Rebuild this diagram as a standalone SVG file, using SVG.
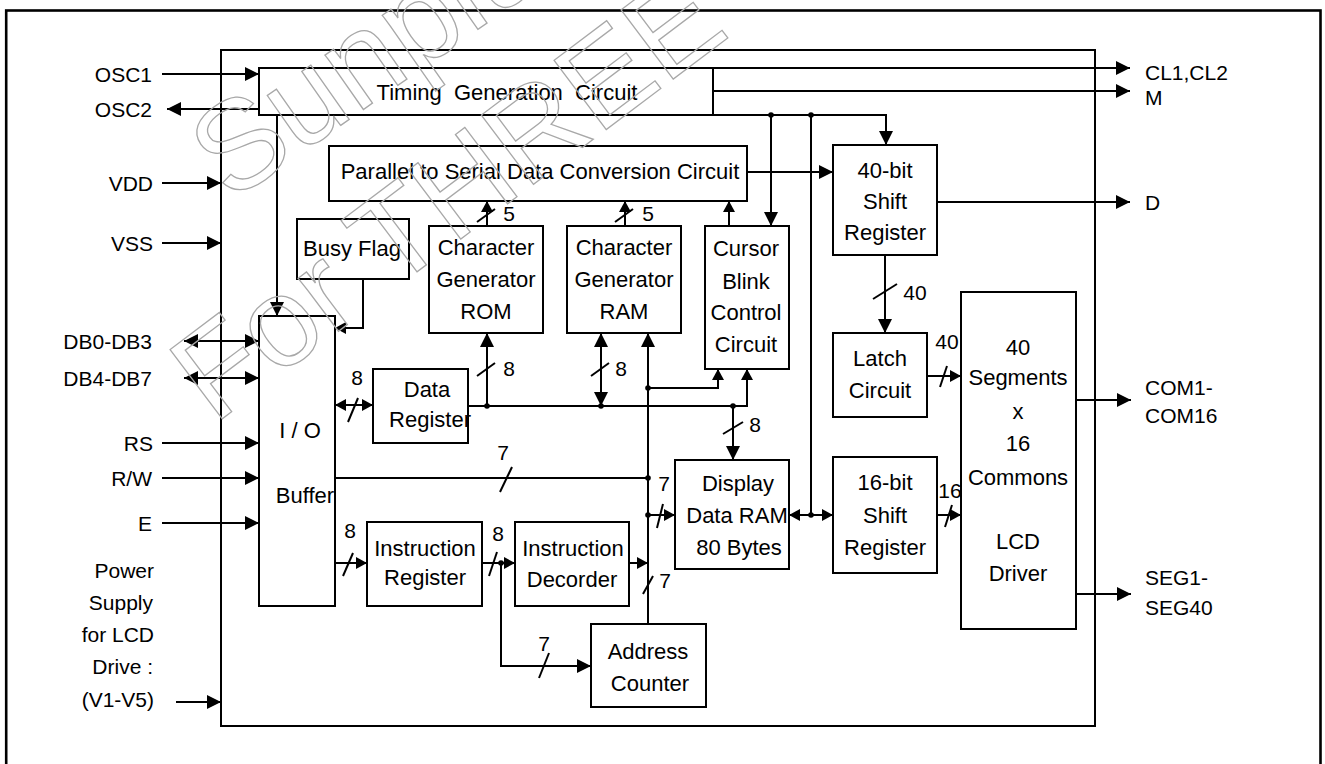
<svg xmlns="http://www.w3.org/2000/svg" width="1325" height="764" viewBox="0 0 1325 764">
<style>
.bx{fill:none;stroke:#000;stroke-width:2}
.ln{fill:none;stroke:#000;stroke-width:2}
.t{font-family:"Liberation Sans",Arial,sans-serif;font-size:22px;fill:#000;text-anchor:middle}
.p{font-family:"Liberation Sans",Arial,sans-serif;font-size:21px;fill:#000}
.pe{text-anchor:end}
.n{font-family:"Liberation Sans",Arial,sans-serif;font-size:21px;fill:#000;text-anchor:middle}
.wm{font-family:"Liberation Sans",Arial,sans-serif;font-size:126px;fill:none;stroke:#a8a8a8;stroke-width:1.3}
</style>
<defs>
<marker id="a" markerUnits="userSpaceOnUse" markerWidth="15" markerHeight="15" refX="14" refY="7" orient="auto-start-reverse"><path d="M0,0L14,7L0,14z" fill="#000"/></marker>
<marker id="s" markerUnits="userSpaceOnUse" markerWidth="12" markerHeight="12" refX="11" refY="6" orient="auto-start-reverse"><path d="M0,0L11,6L0,12z" fill="#000"/></marker>
</defs>
<rect width="1325" height="764" fill="#fff"/>
<rect x="6.2" y="10.5" width="1314.3" height="770" fill="none" stroke="#000" stroke-width="2.6"/>
<rect id="chip" x="221" y="50" width="874" height="676" class="bx"/>

<g id="pins">
<text class="p pe" x="152" y="81.5">OSC1</text>
<text class="p pe" x="152" y="117">OSC2</text>
<text class="p pe" x="153" y="190.5">VDD</text>
<text class="p pe" x="153" y="250.5">VSS</text>
<text class="p pe" x="152" y="348.5">DB0-DB3</text>
<text class="p pe" x="152" y="385.5">DB4-DB7</text>
<text class="p pe" x="153" y="450.5">RS</text>
<text class="p pe" x="152" y="485.5">R/W</text>
<text class="p pe" x="152" y="530.5">E</text>
<text class="p pe" x="154" y="578">Power</text>
<text class="p pe" x="153" y="610">Supply</text>
<text class="p pe" x="154" y="642">for LCD</text>
<text class="p pe" x="153" y="674">Drive :</text>
<text class="p pe" x="154" y="707">(V1-V5)</text>
<text class="p" x="1145" y="79.5">CL1,CL2</text>
<text class="p" x="1145" y="104.5">M</text>
<text class="p" x="1145" y="209.5">D</text>
<text class="p" x="1145" y="394.5">COM1-</text>
<text class="p" x="1145" y="422.5">COM16</text>
<text class="p" x="1145" y="584.5">SEG1-</text>
<text class="p" x="1145" y="614.5">SEG40</text>
</g>

<g id="timing"><rect x="259" y="68" width="454" height="47" class="bx"/><text class="t" x="507" y="100" xml:space="preserve">Timing  Generation  Circuit</text></g>
<g id="p2s"><rect x="329" y="146" width="418" height="55" class="bx"/><text class="t" x="540" y="179">Parallel to Serial Data Conversion Circuit</text></g>
<g id="busy"><rect x="297" y="219" width="112" height="60" class="bx"/><text class="t" x="352" y="256">Busy Flag</text></g>
<g id="cgrom"><rect x="429" y="226" width="114" height="107" class="bx"/><text class="t" x="486" y="255">Character</text><text class="t" x="486" y="287">Generator</text><text class="t" x="486" y="319">ROM</text></g>
<g id="cgram"><rect x="567" y="226" width="114" height="107" class="bx"/><text class="t" x="624" y="255">Character</text><text class="t" x="624" y="287">Generator</text><text class="t" x="624" y="319">RAM</text></g>
<g id="cursor"><rect x="705" y="226" width="84" height="143" class="bx"/><text class="t" x="746" y="256">Cursor</text><text class="t" x="746" y="289">Blink</text><text class="t" x="746" y="320">Control</text><text class="t" x="746" y="352">Circuit</text></g>
<g id="sr40"><rect x="833" y="145" width="104" height="110" class="bx"/><text class="t" x="885" y="178">40-bit</text><text class="t" x="885" y="209">Shift</text><text class="t" x="885" y="240">Register</text></g>
<g id="latch"><rect x="833" y="333" width="94" height="84" class="bx"/><text class="t" x="880" y="366">Latch</text><text class="t" x="880" y="398">Circuit</text></g>
<g id="lcd"><rect x="961" y="292" width="115" height="337" class="bx"/><text class="t" x="1018" y="355">40</text><text class="t" x="1018" y="385">Segments</text><text class="t" x="1018" y="419">x</text><text class="t" x="1018" y="451">16</text><text class="t" x="1018" y="485">Commons</text><text class="t" x="1018" y="549">LCD</text><text class="t" x="1018" y="581">Driver</text></g>
<g id="io"><rect x="259" y="316" width="76" height="290" class="bx"/><text class="t" x="300" y="438">I / O</text><text class="t" x="305" y="503">Buffer</text></g>
<g id="dreg"><rect x="373" y="369" width="95" height="74" class="bx"/><text class="t" x="427" y="397">Data</text><text class="t" x="430" y="427">Register</text></g>
<g id="ireg"><rect x="367" y="522" width="115" height="84" class="bx"/><text class="t" x="425" y="556">Instruction</text><text class="t" x="425" y="585">Register</text></g>
<g id="idec"><rect x="515" y="522" width="114" height="84" class="bx"/><text class="t" x="573" y="556">Instruction</text><text class="t" x="572" y="587">Decorder</text></g>
<g id="ddram"><rect x="675" y="460" width="114" height="109" class="bx"/><text class="t" x="738" y="491">Display</text><text class="t" x="737" y="523">Data RAM</text><text class="t" x="739" y="555">80 Bytes</text></g>
<g id="sr16"><rect x="833" y="457" width="104" height="116" class="bx"/><text class="t" x="885" y="490">16-bit</text><text class="t" x="885" y="523">Shift</text><text class="t" x="885" y="555">Register</text></g>
<g id="ac"><rect x="591" y="624" width="115" height="83" class="bx"/><text class="t" x="648" y="659">Address</text><text class="t" x="650" y="691">Counter</text></g>

<g id="connectors">
<g class="ln" marker-end="url(#a)">
<line x1="162" y1="74" x2="259" y2="74"/>
<line x1="259" y1="109" x2="167" y2="109"/>
<line x1="162" y1="183" x2="221" y2="183"/>
<line x1="162" y1="243" x2="221" y2="243"/>
<line x1="162" y1="443" x2="259" y2="443"/>
<line x1="162" y1="478" x2="259" y2="478"/>
<line x1="162" y1="523" x2="259" y2="523"/>
<line x1="176" y1="702" x2="221" y2="702"/>
<line x1="713" y1="68" x2="1130" y2="68"/>
<line x1="713" y1="91" x2="1130" y2="91"/>
<line x1="937" y1="202" x2="1130" y2="202"/>
<line x1="1076" y1="400" x2="1131" y2="400"/>
<line x1="1076" y1="594" x2="1131" y2="594"/>
<line x1="747" y1="172" x2="833" y2="172"/>
<polyline points="713,115 886,115 886,145"/>
<line x1="771" y1="115" x2="771" y2="226"/>
<line x1="277" y1="115" x2="277" y2="316"/>
<line x1="885" y1="255" x2="885" y2="333"/>
<line x1="487" y1="406" x2="487" y2="333"/>
<line x1="733" y1="406" x2="733" y2="460"/>
<line x1="648" y1="624" x2="648" y2="333"/>
<polyline points="501,563 501,666 591,666"/>
</g>
<g class="ln" marker-start="url(#a)" marker-end="url(#a)">
<line x1="184" y1="341" x2="259" y2="341"/>
<line x1="184" y1="378" x2="259" y2="378"/>
<line x1="601" y1="406" x2="601" y2="333"/>
</g>
<g class="ln" marker-end="url(#s)">
<polyline points="363,279 363,328 335,328"/>
<polyline points="468,406 747,406 747,369"/>
<polyline points="648,388 718,388 718,369"/>
<line x1="487" y1="226" x2="487" y2="201"/>
<line x1="625" y1="226" x2="625" y2="201"/>
<line x1="729" y1="226" x2="729" y2="201"/>
<line x1="927" y1="376" x2="961" y2="376"/>
<line x1="937" y1="515" x2="961" y2="515"/>
<line x1="648" y1="515" x2="675" y2="515"/>
<line x1="335" y1="563" x2="367" y2="563"/>
<line x1="482" y1="563" x2="515" y2="563"/>
<line x1="629" y1="563" x2="648" y2="563"/>
</g>
<g class="ln" marker-start="url(#s)" marker-end="url(#s)">
<line x1="335" y1="405" x2="373" y2="405"/>
<line x1="789" y1="515" x2="833" y2="515"/>
</g>
<g class="ln">
<line x1="811" y1="115" x2="811" y2="515"/>
<line x1="335" y1="478" x2="648" y2="478"/>
</g>
<g class="ln" stroke-width="1.6">
<line x1="873" y1="299" x2="897" y2="284"/>
<line x1="940" y1="387" x2="947" y2="366"/>
<line x1="945" y1="527" x2="952" y2="505"/>
<line x1="348" y1="422" x2="358" y2="398"/>
<line x1="477" y1="376" x2="495" y2="363"/>
<line x1="591" y1="376" x2="609" y2="363"/>
<line x1="723" y1="434" x2="743" y2="422"/>
<line x1="477" y1="222" x2="495" y2="209"/>
<line x1="615" y1="222" x2="633" y2="209"/>
<line x1="500" y1="492" x2="512" y2="467"/>
<line x1="657" y1="528" x2="663" y2="504"/>
<line x1="343" y1="576" x2="353" y2="553"/>
<line x1="489" y1="576" x2="497" y2="552"/>
<line x1="643" y1="594" x2="653" y2="576"/>
<line x1="539" y1="678" x2="549" y2="653"/>
</g>
<g fill="#000">
<circle cx="771" cy="115" r="2.8"/><circle cx="811" cy="115" r="2.8"/><circle cx="811" cy="515" r="2.8"/>
<circle cx="487" cy="406" r="2.8"/><circle cx="601" cy="406" r="2.8"/><circle cx="733" cy="406" r="2.8"/>
<circle cx="648" cy="388" r="2.8"/><circle cx="648" cy="478" r="2.8"/><circle cx="648" cy="515" r="2.8"/>
<circle cx="501" cy="563" r="2.8"/>
</g>
<text class="n" x="509" y="221">5</text>
<text class="n" x="648" y="221">5</text>
<text class="n" x="509" y="375.5">8</text>
<text class="n" x="621" y="375.5">8</text>
<text class="n" x="755" y="431.5">8</text>
<text class="n" x="915" y="299.5">40</text>
<text class="n" x="947" y="348.5">40</text>
<text class="n" x="950" y="497.5">16</text>
<text class="n" x="503" y="460">7</text>
<text class="n" x="664" y="490.5">7</text>
<text class="n" x="665" y="587.5">7</text>
<text class="n" x="544" y="650.5">7</text>
<text class="n" x="350" y="537.5">8</text>
<text class="n" x="498" y="540.5">8</text>
<text class="n" x="357" y="384.5">8</text>
</g>

<g id="watermark">
<text class="wm" transform="translate(230,203) rotate(-35)">Sunplus</text>
<text class="wm" transform="translate(214,425) rotate(-37)">For THREE</text>
</g>
</svg>
